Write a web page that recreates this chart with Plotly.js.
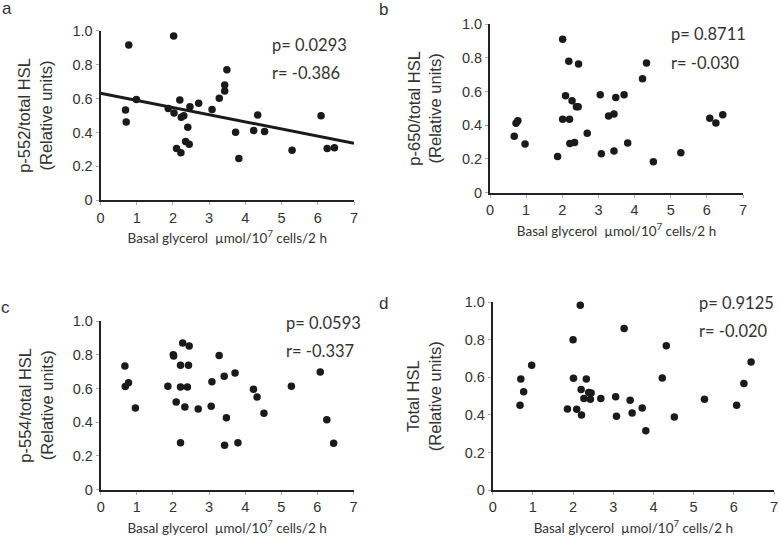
<!DOCTYPE html>
<html>
<head>
<meta charset="utf-8">
<script src="https://cdn.plot.ly/plotly-3.0.1.min.js"></script>
<style>html,body{margin:0;padding:0;background:#fff;}#chart{width:779px;height:538px;}</style>
</head>
<body>
<div id="chart"></div>
<script>
// Panel a: p-552/total HSL
const aX = [0.69,0.71,0.78,0.99,1.87,2.02,2.03,2.19,2.10,2.22,2.23,2.30,2.35,2.41,2.45,2.47,2.71,3.08,3.28,3.43,3.43,3.49,3.73,3.82,4.23,4.34,4.53,5.29,6.09,6.26,6.46];
const aY = [0.532,0.462,0.916,0.595,0.542,0.969,0.515,0.591,0.306,0.281,0.489,0.499,0.346,0.430,0.330,0.552,0.572,0.536,0.601,0.644,0.680,0.770,0.401,0.246,0.411,0.503,0.405,0.295,0.499,0.305,0.310];
const aLineX = [0, 7];
const aLineY = [0.631, 0.336];
// Panel b: p-650/total HSL
const bX = [0.67,0.72,0.77,0.97,1.87,2.01,2.01,2.09,2.18,2.20,2.21,2.27,2.34,2.39,2.44,2.45,2.69,3.05,3.08,3.28,3.43,3.43,3.48,3.71,3.81,4.22,4.33,4.52,5.28,6.08,6.25,6.44];
const bY = [0.334,0.411,0.427,0.289,0.215,0.909,0.435,0.575,0.779,0.435,0.292,0.545,0.298,0.510,0.510,0.763,0.352,0.581,0.231,0.455,0.466,0.247,0.565,0.581,0.294,0.676,0.769,0.184,0.237,0.441,0.413,0.462];
// Panel c: p-554/total HSL
const cX = [0.67,0.68,0.77,0.96,1.86,2.01,2.02,2.09,2.21,2.21,2.21,2.27,2.33,2.40,2.43,2.45,2.70,3.06,3.08,3.28,3.42,3.43,3.48,3.72,3.80,4.23,4.33,4.52,5.28,6.08,6.26,6.45];
const cY = [0.733,0.611,0.634,0.484,0.613,0.800,0.792,0.520,0.737,0.609,0.279,0.870,0.490,0.609,0.737,0.852,0.478,0.494,0.640,0.796,0.672,0.263,0.427,0.692,0.279,0.595,0.549,0.453,0.613,0.698,0.415,0.275];
// Panel d: Total HSL
const dX = [0.68,0.70,0.77,0.97,1.86,2.00,2.01,2.09,2.18,2.20,2.21,2.27,2.33,2.39,2.43,2.45,2.69,3.06,3.08,3.27,3.42,3.42,3.47,3.72,3.81,4.22,4.32,4.52,5.27,6.07,6.25,6.43];
const dY = [0.451,0.591,0.524,0.664,0.432,0.801,0.595,0.430,0.984,0.536,0.400,0.488,0.591,0.520,0.483,0.517,0.488,0.497,0.393,0.860,1.005,0.478,0.410,0.437,0.316,0.597,0.769,0.389,0.483,0.451,0.567,0.682];

const yTitles = ['p-552/total HSL<br>(Relative units)','p-650/total HSL<br>(Relative units)','p-554/total HSL<br>(Relative units)','Total HSL<br>(Relative units)'];
const xTitle = 'Basal glycerol\u00a0\u00a0µmol/10<sup>7</sup> cells/2 h';
const stats = [['p= 0.0293','r= -0.386'],['p= 0.8711','r= -0.030'],['p= 0.0593','r= -0.337'],['p= 0.9125','r= -0.020']];
const panelLetters = ['a','b','c','d'];

const W = 779, H = 538;
const mk = {color:'#1a1a1a', size:7.5};
function sc(x,y,ax){return {x:x,y:y,type:'scatter',mode:'markers',marker:mk,xaxis:'x'+ax,yaxis:'y'+ax,cliponaxis:false,showlegend:false,hoverinfo:'skip'};}
const data = [
  sc(aX,aY,''), {x:aLineX,y:aLineY,type:'scatter',mode:'lines',line:{color:'#1a1a1a',width:3},xaxis:'x',yaxis:'y',showlegend:false,cliponaxis:false},
  sc(bX,bY,'2'), sc(cX,cY,'3'), sc(dX,dY,'4')
];
// pixel boxes [left,right,top,bottom]
const boxes = [[100.5,354,30.7,200.3],[490,743,24,192.7],[100.7,353.5,321,489.7],[492.7,774,302.3,490]];
const yStand = [16,16,15,19];
const layout = {width:W,height:H,margin:{l:0,r:0,t:0,b:0},paper_bgcolor:'#fff',plot_bgcolor:'#fff',
  font:{family:'Liberation Sans, Arial, sans-serif',color:'#333'},annotations:[]};
const statPos = [[270,45,73],[669,34,63],[284,323,351],[697,303,331]];
const letterPos = [[7,8],[383,10],[5,307],[383,303]];
boxes.forEach((b,i)=>{
  const s = i===0?'':String(i+1);
  layout['xaxis'+s] = {domain:[b[0]/W,b[1]/W],range:[0,7],dtick:1,showgrid:false,zeroline:false,showline:true,linecolor:'#222',linewidth:2,
    ticks:'outside',ticklen:3,tickcolor:'#aaa',tickfont:{size:14.5,color:'#333'},anchor:'y'+s,
    title:{text:xTitle,font:{family:'Lato, Open Sans, sans-serif',size:13.5,color:'#333'},standoff:9}};
  layout['yaxis'+s] = {domain:[1-b[3]/H,1-b[2]/H],range:[0,1],showgrid:false,zeroline:false,showline:true,linecolor:'#222',linewidth:2,
    ticks:'outside',ticklen:3,tickcolor:'#aaa',tickfont:{size:14.5,color:'#333'},anchor:'x'+s,
    tickvals:[0,0.2,0.4,0.6,0.8,1.0],ticktext:['0','0.2','0.4','0.6','0.8','1.0'],
    title:{text:yTitles[i],font:{size:16.5,color:'#333'},standoff:yStand[i]}};
  const sp = statPos[i];
  layout.annotations.push({xref:'paper',yref:'paper',x:sp[0]/W,y:1-sp[1]/H,xanchor:'left',yanchor:'middle',showarrow:false,text:stats[i][0],font:{family:'Lato, Open Sans, sans-serif',size:16.5,color:'#333'}});
  layout.annotations.push({xref:'paper',yref:'paper',x:sp[0]/W,y:1-sp[2]/H,xanchor:'left',yanchor:'middle',showarrow:false,text:stats[i][1],font:{family:'Lato, Open Sans, sans-serif',size:16.5,color:'#333'}});
  const lp = letterPos[i];
  layout.annotations.push({xref:'paper',yref:'paper',x:lp[0]/W,y:1-lp[1]/H,xanchor:'center',yanchor:'middle',showarrow:false,text:panelLetters[i],font:{size:17,color:'#333'}});
});
Plotly.newPlot('chart',data,layout,{displayModeBar:false,staticPlot:true});
</script>
</body>
</html>
